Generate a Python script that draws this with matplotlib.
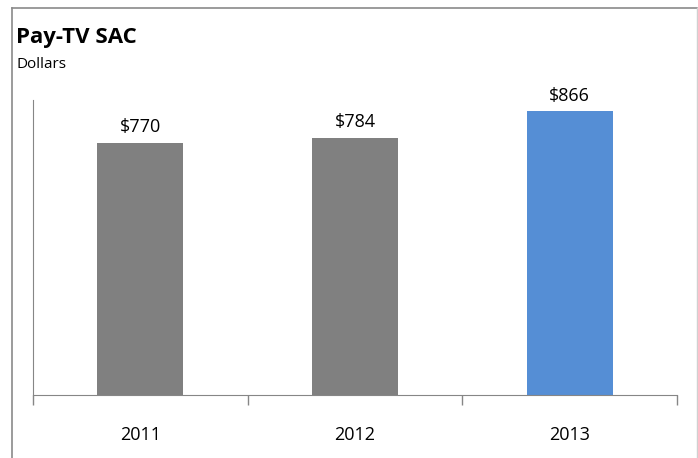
import matplotlib.pyplot as plt
import numpy as np
from matplotlib.lines import Line2D

years = ['2011', '2012', '2013']
sac = [770, 784, 866]
bar_colors = ['#808080', '#808080', '#558ED5']

plt.rcParams['font.family'] = ['Open Sans', 'DejaVu Sans']

W, H = 698, 458
fig = plt.figure(figsize=(W / 100, H / 100), dpi=100)

# axes box in pixels: left 33, right 677, top 100, bottom 395
ax = fig.add_axes([33 / W, 1 - 395 / H, (677 - 33) / W, (395 - 100) / H])

x = np.arange(len(years))
ax.bar(x, sac, width=0.4, color=bar_colors)
for xi, v in zip(x, sac):
    ax.text(xi, v + 20, f'${v}', ha='center', va='bottom', fontsize=13)

ax.set_xlim(-0.5, len(years) - 0.5)
ax.set_ylim(0, 900)
ax.set_yticks([])
ax.set_xticks(np.arange(len(years) + 1) - 0.5)
ax.set_xticklabels([])
ax.set_xticks(x, minor=True)
ax.set_xticklabels(years, minor=True, fontsize=13)
ax.tick_params(axis='x', which='major', length=7, color='#868686', width=1)
ax.tick_params(axis='x', which='minor', length=0, pad=22)
for s in ['top', 'right']:
    ax.spines[s].set_visible(False)
for s in ['left', 'bottom']:
    ax.spines[s].set_color('#868686')

# outer frame (top and left visible, right faint)
fig.add_artist(Line2D([12 / W, 12 / W], [0, 1 - 7.5 / H], transform=fig.transFigure, color='#8a8a8a', lw=1.2))
fig.add_artist(Line2D([12 / W, 697 / W], [1 - 7.5 / H, 1 - 7.5 / H], transform=fig.transFigure, color='#8a8a8a', lw=1.2))
fig.add_artist(Line2D([697 / W, 697 / W], [0, 1 - 7.5 / H], transform=fig.transFigure, color='#d0d0d0', lw=1))

fig.text(16 / W, 1 - 38 / H, 'Pay-TV SAC', fontsize=16, fontweight='bold', va='center')
fig.text(16 / W, 1 - 64 / H, 'Dollars', fontsize=11, va='center')

fig.savefig('out.png', dpi=100)
